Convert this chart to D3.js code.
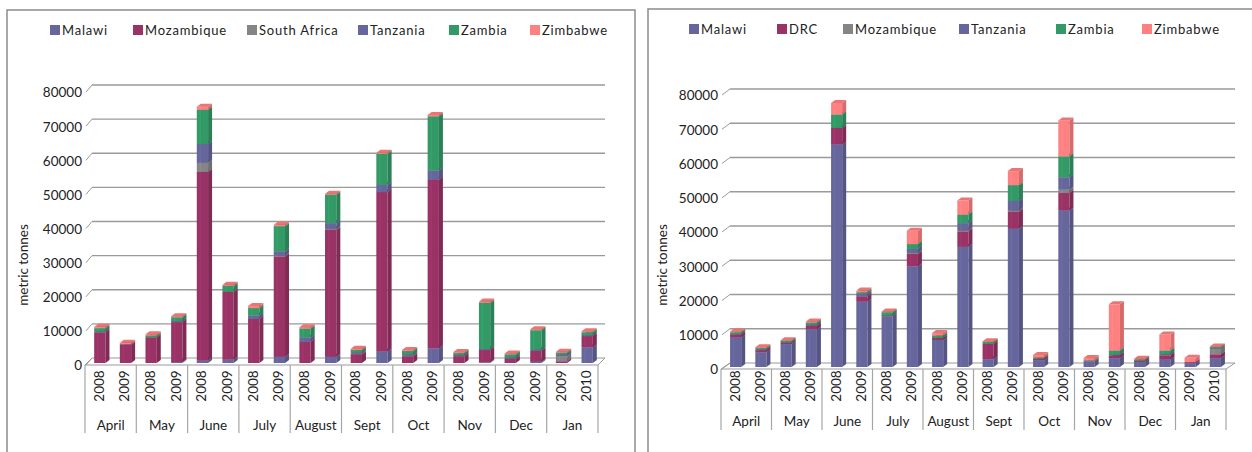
<!DOCTYPE html>
<html>
<head>
<meta charset="utf-8">
<script src="https://cdn.jsdelivr.net/npm/d3@7"></script>
<style>
  body { margin: 0; background: #fff; }
  svg { display: block; font-family: Lato, "Liberation Sans", sans-serif; }
</style>
</head>
<body>
<svg id="chart" width="1252" height="452"></svg>
<script>
// categories
const months = ["April", "May", "June", "July", "August", "Sept", "Oct", "Nov", "Dec", "Jan"];
const years = ["2008", "2009", "2008", "2009", "2008", "2009", "2008", "2009", "2008", "2009",
               "2008", "2009", "2008", "2009", "2008", "2009", "2008", "2009", "2009", "2010"];
const yTicks = [0, 10000, 20000, 30000, 40000, 50000, 60000, 70000, 80000];

// left chart series (metric tonnes)
const leftNames = ["Malawi", "Mozambique", "South Africa", "Tanzania", "Zambia", "Zimbabwe"];
const leftMalawi = [0, 0, 0, 300, 700, 1000, 0, 1800, 0, 1800, 0, 3400, 0, 4300, 0, 200, 0, 400, 0, 4600];
const leftMozambique = [9000, 5300, 7500, 11700, 55300, 19900, 12900, 29400, 6200, 37200, 2600, 46700, 2000, 49400, 2000, 3600, 1200, 3200, 500, 3300];
const leftSouthAfrica = [0, 0, 0, 0, 2650, 0, 0, 300, 0, 300, 200, 0, 200, 0, 0, 0, 0, 0, 1500, 0];
const leftTanzania = [200, 200, 0, 300, 5550, 0, 1000, 1200, 1300, 1700, 300, 2100, 300, 2700, 300, 300, 400, 300, 500, 300];
const leftZambia = [1000, 0, 500, 1100, 10000, 1700, 2200, 7400, 2600, 8300, 700, 9100, 1000, 15900, 600, 13500, 900, 5700, 500, 800];
const leftZimbabwe = [400, 400, 400, 300, 900, 300, 600, 400, 400, 300, 400, 300, 300, 400, 300, 400, 300, 300, 300, 300];

// right chart series (metric tonnes)
const rightNames = ["Malawi", "DRC", "Mozambique", "Tanzania", "Zambia", "Zimbabwe"];
const rightMalawi = [8600, 4300, 6700, 11000, 65000, 19100, 14800, 29400, 7900, 35100, 2300, 40400, 2000, 45700, 1700, 2600, 1500, 2200, 1100, 2600];
const rightDRC = [800, 600, 300, 1000, 4800, 1500, 200, 3600, 600, 4500, 4500, 4900, 400, 5100, 0, 800, 300, 1200, 300, 1100];
const rightMozambique = [0, 0, 0, 0, 0, 0, 0, 300, 0, 300, 0, 400, 0, 1000, 0, 0, 0, 0, 0, 1600];
const rightTanzania = [200, 200, 200, 300, 0, 800, 0, 1200, 0, 2100, 0, 2800, 0, 3600, 0, 200, 0, 300, 0, 200];
const rightZambia = [500, 400, 400, 600, 3900, 400, 1000, 1400, 700, 2500, 500, 4600, 400, 6100, 200, 1200, 400, 1100, 0, 300];
const rightZimbabwe = [300, 300, 200, 400, 3400, 500, 200, 3900, 700, 4100, 200, 4100, 700, 10500, 700, 13500, 200, 4700, 1300, 200];

const leftColors = ["#66669c", "#993366", "#858585", "#66669c", "#339966", "#ff8080"];
const rightColors = ["#66669c", "#993366", "#858585", "#66669c", "#339966", "#ff8080"];

const svg = d3.select("#chart");

function drawPanel(cfg) {
  const g = svg.append("g");

  // panel frame
  g.append("rect")
    .attr("x", cfg.frame[0]).attr("y", cfg.frame[1])
    .attr("width", cfg.frame[2]).attr("height", cfg.frame[3])
    .attr("fill", "#fff").attr("stroke", "#8c8c8c").attr("stroke-width", 1.5);

  const y = d3.scaleLinear().domain([0, 80000]).range([cfg.yZero, cfg.yTop]);
  const x = d3.scaleBand().domain(d3.range(years.length))
    .range([cfg.x0, cfg.x1]).paddingInner(0.56).paddingOuter(0.28);
  const monthW = (cfg.x1 - cfg.x0) / months.length;
  const dx = cfg.dx, dy = cfg.dy;

  // floor
  g.append("path")
    .attr("d", `M${cfg.x0},${cfg.yZero + dy}L${cfg.x1},${cfg.yZero + dy}L${cfg.x1 + dx},${cfg.yZero}L${cfg.x0 + dx},${cfg.yZero}Z`)
    .attr("fill", "#fff").attr("stroke", "#999").attr("stroke-width", 1);

  // back wall gridlines + side diagonals
  yTicks.forEach(t => {
    if (t > 0) {
      g.append("line")
        .attr("x1", cfg.x0 + dx).attr("x2", cfg.x1 + dx)
        .attr("y1", y(t)).attr("y2", y(t))
        .attr("stroke", "#9a9a9a").attr("stroke-width", 1.3);
    }
    g.append("line")
      .attr("x1", cfg.x0 + 1).attr("y1", y(t) + dy)
      .attr("x2", cfg.x0 + dx).attr("y2", y(t))
      .attr("stroke", "#9a9a9a").attr("stroke-width", 1);
    g.append("text")
      .attr("x", cfg.x0 - 3).attr("y", y(t) + dy + 2)
      .attr("text-anchor", "end").attr("dominant-baseline", "middle")
      .attr("font-size", "13.5px").attr("fill", "#222")
      .text(t);
  });

  // bars
  const stack = d3.stack().keys(d3.range(cfg.series.length))
    .value((d, k) => cfg.series[k][d]);
  const layers = stack(d3.range(years.length));
  const bw = x.bandwidth(), bdx = 4, bdy = 3, bz = cfg.barDrop;

  d3.range(years.length).forEach(i => {
    const bx = x(i) + 2;
    layers.forEach((layer, k) => {
      const v0 = layer[i][0], v1 = layer[i][1];
      if (v1 - v0 <= 0) return;
      const yb = y(v0) + bz, yt = y(v1) + bz;
      const c = d3.color(cfg.colors[k]);
      g.append("rect")
        .attr("x", bx).attr("y", yt).attr("width", bw).attr("height", yb - yt)
        .attr("fill", c.formatHex());
      g.append("path")
        .attr("d", `M${bx + bw},${yb}L${bx + bw + bdx},${yb - bdy}L${bx + bw + bdx},${yt - bdy}L${bx + bw},${yt}Z`)
        .attr("fill", c.darker(0.5).formatHex());
      g.append("path")
        .attr("d", `M${bx},${yt}L${bx + bw},${yt}L${bx + bw + bdx},${yt - bdy}L${bx + bdx},${yt - bdy}Z`)
        .attr("fill", c.darker(0.25).formatHex());
      // thin highlight on the front face
      g.append("rect")
        .attr("x", bx + bw * 0.25).attr("y", yt).attr("width", 1.5).attr("height", yb - yt)
        .attr("fill", c.brighter(0.3).formatHex()).attr("opacity", 0.6);
    });
  });

  // category axis box
  const yf = cfg.yZero + dy;
  d3.range(months.length + 1).forEach(m => {
    const xx = cfg.x0 + m * monthW;
    g.append("line")
      .attr("x1", xx).attr("x2", xx)
      .attr("y1", yf).attr("y2", cfg.boxBottom)
      .attr("stroke", "#a6a6a6").attr("stroke-width", 1.2);
  });
  years.forEach((yr, i) => {
    const cx = cfg.x0 + (i + 0.5) * monthW / 2;
    g.append("text")
      .attr("transform", `translate(${cx + 1},${cfg.yearY}) rotate(-90)`)
      .attr("text-anchor", "middle").attr("dominant-baseline", "central")
      .attr("font-size", "13.5px").attr("fill", "#222")
      .text(yr);
  });
  months.forEach((m, i) => {
    g.append("text")
      .attr("x", cfg.x0 + (i + 0.5) * monthW).attr("y", cfg.monthY)
      .attr("text-anchor", "middle")
      .attr("font-size", "13.5px").attr("fill", "#222")
      .text(m);
  });

  // axis title
  g.append("text")
    .attr("transform", `translate(${cfg.titleX},${cfg.titleY}) rotate(-90)`)
    .attr("text-anchor", "middle").attr("dominant-baseline", "central")
    .attr("font-size", "13.5px").attr("fill", "#222")
    .text("metric tonnes");

  // legend
  cfg.names.forEach((n, k) => {
    const lx = cfg.legendX[k];
    g.append("rect")
      .attr("x", lx).attr("y", cfg.legendY - 5).attr("width", 10).attr("height", 10)
      .attr("fill", cfg.colors[k]);
    g.append("text")
      .attr("x", lx + 12).attr("y", cfg.legendY)
      .attr("dominant-baseline", "central")
      .attr("font-size", "13px").attr("letter-spacing", "0.8px").attr("fill", "#222")
      .text(n);
  });
}

drawPanel({
  frame: [7, 10, 628, 460],
  x0: 85, x1: 598, dx: 7, dy: 7,
  yZero: 358, yTop: 85, barDrop: 5,
  boxBottom: 433, yearY: 386, monthY: 430,
  titleX: 23, titleY: 265,
  legendY: 30, legendX: [50, 133, 247, 358, 449, 530],
  names: leftNames, colors: leftColors,
  series: [leftMalawi, leftMozambique, leftSouthAfrica, leftTanzania, leftZambia, leftZimbabwe]
});

drawPanel({
  frame: [648, 9, 620, 460],
  x0: 721, x1: 1226, dx: 9, dy: 6,
  yZero: 363, yTop: 89, barDrop: 4,
  boxBottom: 430, yearY: 386, monthY: 426,
  titleX: 662, titleY: 265,
  legendY: 29, legendX: [689, 777, 843, 959, 1056, 1142],
  names: rightNames, colors: rightColors,
  series: [rightMalawi, rightDRC, rightMozambique, rightTanzania, rightZambia, rightZimbabwe]
});
</script>
</body>
</html>
